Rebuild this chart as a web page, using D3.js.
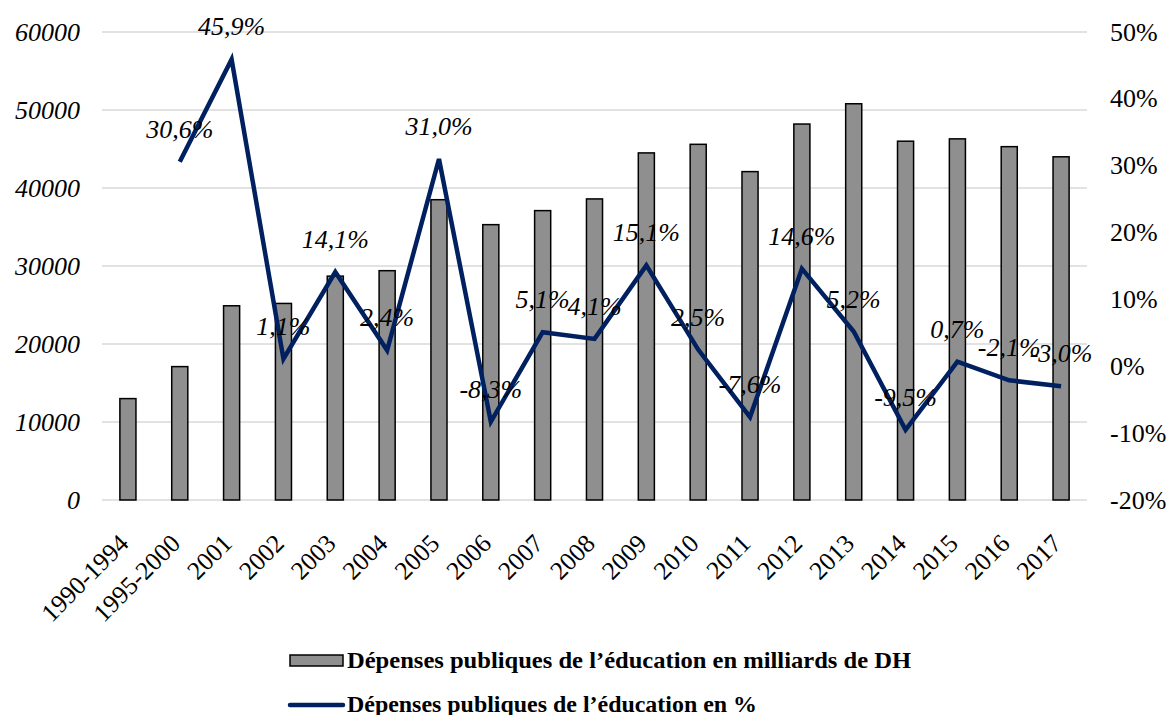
<!DOCTYPE html>
<html>
<head>
<meta charset="utf-8">
<script src="https://cdn.jsdelivr.net/npm/d3@7"></script>
<style>
  body { margin: 0; background: #fff; }
  svg { display: block; font-family: "Liberation Serif", "Times New Roman", serif; }
</style>
</head>
<body>
<svg id="chart" width="1166" height="715"></svg>
<script>
const categories = ["1990-1994", "1995-2000", "2001", "2002", "2003", "2004", "2005", "2006", "2007",
    "2008", "2009", "2010", "2011", "2012", "2013", "2014", "2015", "2016", "2017"];
const spending = [13000, 17100, 24900, 25200, 28700, 29400, 38500, 35300, 37100,
    38600, 44500, 45600, 42100, 48200, 50800, 46000, 46300, 45300, 44000];
const growth = [null, 30.6, 45.9, 1.1, 14.1, 2.4, 31.0, -8.3, 5.1,
    4.1, 15.1, 2.5, -7.6, 14.6, 5.2, -9.5, 0.7, -2.1, -3.0];
const leftTicks = [0, 10000, 20000, 30000, 40000, 50000, 60000];
const rightTicks = [-20, -10, 0, 10, 20, 30, 40, 50];
const seriesNames = ["Dépenses publiques de l’éducation en milliards de DH", "Dépenses publiques de l’éducation en %"];

const svg = d3.select("#chart");
const plotLeft = 102, plotRight = 1087, plotTop = 32, plotBottom = 500;

const x = d3.scaleBand().domain(categories).range([plotLeft, plotRight]).paddingInner(0.69).paddingOuter(0.345);
const yL = d3.scaleLinear().domain([0, 60000]).range([plotBottom, plotTop]);
const yR = d3.scaleLinear().domain([-20, 50]).range([plotBottom, plotTop]);
const cx = c => x(c) + x.bandwidth() / 2;

// gridlines
svg.append("g").selectAll("line").data(leftTicks).join("line")
    .attr("x1", plotLeft).attr("x2", plotRight)
    .attr("y1", d => yL(d)).attr("y2", d => yL(d))
    .attr("stroke", "#d9d9d9").attr("stroke-width", 1.5);

// left axis labels
svg.append("g").selectAll("text").data(leftTicks).join("text")
    .attr("x", 80).attr("y", d => yL(d) + 8.5)
    .attr("text-anchor", "end")
    .attr("font-size", 26).attr("font-style", "italic")
    .text(d => d);

// right axis labels
svg.append("g").selectAll("text").data(rightTicks).join("text")
    .attr("x", 1110).attr("y", d => yR(d) + 8.5)
    .attr("font-size", 26)
    .text(d => d + "%");

// bars
svg.append("g").selectAll("rect").data(spending).join("rect")
    .attr("x", (d, i) => x(categories[i]))
    .attr("y", d => yL(d))
    .attr("width", x.bandwidth())
    .attr("height", d => plotBottom - yL(d))
    .attr("fill", "#8f8f8f").attr("stroke", "#000").attr("stroke-width", 1.5);

// x labels
svg.append("g").selectAll("text").data(categories).join("text")
    .attr("transform", d => `translate(${cx(d) + 2},${545}) rotate(-45)`)
    .attr("text-anchor", "end")
    .attr("font-size", 25.5)
    .text(d => d);

// line
const pts = growth.map((v, i) => ({ cat: categories[i], v })).filter(d => d.v !== null);
const line = d3.line().x(d => cx(d.cat)).y(d => yR(d.v));
svg.append("path").datum(pts)
    .attr("d", line)
    .attr("fill", "none").attr("stroke", "#002060").attr("stroke-width", 4.5)
    .attr("stroke-linejoin", "miter");

// data labels
svg.append("g").selectAll("text").data(pts).join("text")
    .attr("x", d => cx(d.cat))
    .attr("y", d => yR(d.v) - 24)
    .attr("text-anchor", "middle")
    .attr("font-size", 26).attr("font-style", "italic")
    .text(d => d3.format(".1f")(d.v).replace(".", ",").replace("−", "-") + "%");

// legend
const lg = svg.append("g");
lg.append("rect").attr("x", 290).attr("y", 655).attr("width", 53).attr("height", 11)
    .attr("fill", "#8f8f8f").attr("stroke", "#000").attr("stroke-width", 1.5);
lg.append("text").attr("x", 347).attr("y", 668).attr("font-size", 23.5).attr("font-weight", "bold")
    .attr("textLength", 564).attr("lengthAdjust", "spacingAndGlyphs")
    .text(seriesNames[0]);
lg.append("line").attr("x1", 290).attr("x2", 343).attr("y1", 705).attr("y2", 705)
    .attr("stroke", "#002060").attr("stroke-width", 4.5).attr("stroke-linecap", "round");
lg.append("text").attr("x", 347).attr("y", 712).attr("font-size", 23.5).attr("font-weight", "bold")
    .attr("textLength", 410).attr("lengthAdjust", "spacingAndGlyphs")
    .text(seriesNames[1]);
</script>
</body>
</html>
